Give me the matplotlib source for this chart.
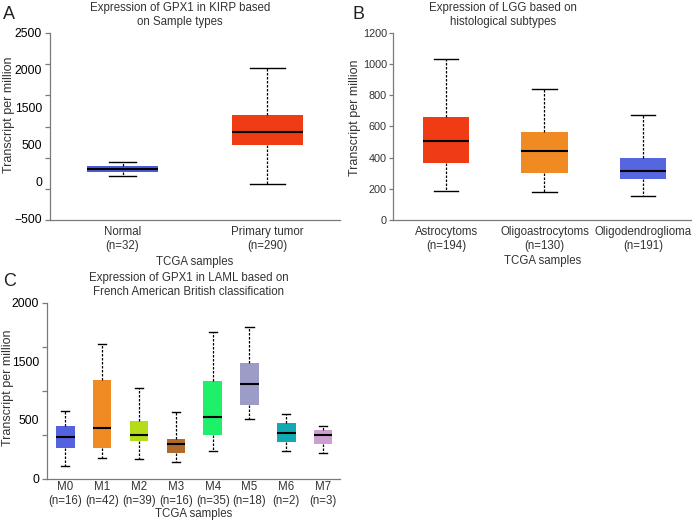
import matplotlib
matplotlib.use("Agg")
import matplotlib.pyplot as plt

plt.rcParams['font.family'] = ['Liberation Sans', 'DejaVu Sans']

# Panel A: GPX1 in KIRP
a_labels = ['Normal\n(n=32)', 'Primary tumor\n(n=290)']
a_whislo = [210, 75]
a_q1 = [263, 710]
a_med = [317, 909]
a_q3 = [366, 1188]
a_whishi = [425, 1941]
a_colors = ['#4b5bd6', '#f03c15']
a_ticks = [-500, 0, 500, 1000, 1500, 2000, 2500]
a_ticklabel_pos = [-478, 113, 720, 1312, 1914, 2505]
a_ticklabels = ['\u2212500', '0', '500', '1500', '2000', '2500']

# Panel B: LGG histological subtypes
b_labels = ['Astrocytoms\n(n=194)', 'Oligoastrocytoms\n(n=130)', 'Oligodendroglioma\n(n=191)']
b_whislo = [186, 180, 152]
b_q1 = [366, 304, 263]
b_med = [507, 441, 314]
b_q3 = [659, 565, 398]
b_whishi = [1035, 843, 676]
b_colors = ['#f03c15', '#f08a22', '#5566de']
b_ticks = [0, 200, 400, 600, 800, 1000, 1200]

# Panel C: GPX1 in LAML (FAB classification)
c_labels = ['M0\n(n=16)', 'M1\n(n=42)', 'M2\n(n=39)', 'M3\n(n=16)',
            'M4\n(n=35)', 'M5\n(n=18)', 'M6\n(n=2)', 'M7\n(n=3)']
c_whislo = [152, 240, 232, 190, 316, 681, 323, 297]
c_q1 = [350, 357, 426, 293, 498, 844, 418, 392]
c_med = [475, 574, 502, 403, 707, 1080, 525, 502]
c_q3 = [605, 1129, 654, 452, 1110, 1319, 639, 551]
c_whishi = [776, 1532, 1030, 764, 1669, 1722, 738, 605]
c_colors = ['#5462e0', '#f08a22', '#b4dc18', '#b06a2a', '#1ef06a', '#9c9cc8', '#12aab2', '#cc9ed2']
c_ticks = [0, 500, 1000, 1500, 2000]
c_ticklabel_pos = [0, 681, 1335, 2000]
c_ticklabels = ['0', '500', '1500', '2000']

AXCOL = '#7a7a7a'
TXTCOL = '#333333'
FS = 8.3


def draw_panel(ax, labels, wlo, q1, med, q3, whi, colors, width, capw, xpad, xlpad):
    stats = []
    for i in range(len(labels)):
        stats.append(dict(whislo=wlo[i], q1=q1[i], med=med[i], q3=q3[i],
                          whishi=whi[i], fliers=[]))
    bp = ax.bxp(stats, positions=range(len(labels)), widths=width,
                patch_artist=True, showfliers=False, capwidths=capw,
                medianprops=dict(color='black', linewidth=1.5),
                whiskerprops=dict(color='black', linestyle=(0, (2, 1.2)), linewidth=0.9),
                capprops=dict(color='black', linewidth=1.0),
                boxprops=dict(linewidth=0))
    for patch, c in zip(bp['boxes'], colors):
        patch.set_facecolor(c)
        patch.set_edgecolor(c)
    ax.set_xticks(range(len(labels)))
    ax.set_xticklabels(labels, fontsize=FS, color=TXTCOL, linespacing=1.2)
    for s in ['top', 'right']:
        ax.spines[s].set_visible(False)
    for s in ['left', 'bottom']:
        ax.spines[s].set_color(AXCOL)
        ax.spines[s].set_linewidth(0.9)
    ax.tick_params(axis='both', colors=AXCOL, labelcolor=TXTCOL, length=3.6, width=0.9)
    ax.tick_params(axis='x', length=0, pad=xpad)
    ax.set_xlabel('TCGA samples', fontsize=FS, color=TXTCOL, labelpad=xlpad)
    ax.set_ylabel('Transcript per million', fontsize=9, color=TXTCOL)


fig = plt.figure(figsize=(6.92, 5.24), dpi=100)

axA = fig.add_axes([0.0723, 0.5802, 0.419, 0.357])
draw_panel(axA, a_labels, a_whislo, a_q1, a_med, a_q3, a_whishi, a_colors, 0.49, [0.18, 0.24], 4.5, 3)
axA.set_xlim(-0.5, 1.5)
axA.set_ylim(-500, 2500)
axA.yaxis.remove_overlapping_locs = False
axA.set_yticks(a_ticks)
axA.set_yticklabels([])
axA.set_yticks(a_ticklabel_pos, a_ticklabels, minor=True)
axA.tick_params(axis='y', which='minor', length=0, pad=5.8, labelsize=8.7)
axA.yaxis.set_label_coords(-0.122, 0.564)
axA.set_title('Expression of GPX1 in KIRP based\non Sample types', fontsize=FS,
              color=TXTCOL, pad=5.5, linespacing=1.2, x=0.448)

axB = fig.add_axes([0.568, 0.5802, 0.432, 0.357])
draw_panel(axB, b_labels, b_whislo, b_q1, b_med, b_q3, b_whishi, b_colors, 0.47, 0.25, 4.5, 2.5)
axB.set_xlim(-0.54, 2.5)
axB.set_ylim(0, 1200)
axB.set_yticks(b_ticks)
axB.tick_params(axis='y', labelsize=7.8, pad=1.5, length=3)
axB.yaxis.set_label_coords(-0.106, 0.548)
axB.set_title('Expression of LGG based on\nhistological subtypes', fontsize=FS,
              color=TXTCOL, pad=5.5, linespacing=1.2, x=0.368)

axC = fig.add_axes([0.0679, 0.0859, 0.423, 0.336])
draw_panel(axC, c_labels, c_whislo, c_q1, c_med, c_q3, c_whishi, c_colors, 0.5, 0.22, 1.5, 1)
axC.set_xlim(-0.5, 7.45)
axC.set_ylim(0, 2000)
axC.yaxis.remove_overlapping_locs = False
axC.set_yticks(c_ticks)
axC.set_yticklabels([])
axC.set_yticks(c_ticklabel_pos, c_ticklabels, minor=True)
axC.tick_params(axis='y', which='minor', length=0, pad=5.8, labelsize=8.7)
axC.yaxis.set_label_coords(-0.112, 0.517)
axC.set_title('Expression of GPX1 in LAML based on\nFrench American British classification',
              fontsize=FS, color=TXTCOL, pad=5.5, linespacing=1.2, x=0.485)

fig.text(0.004, 0.973, 'A', fontsize=13, color='#222222', va='center')
fig.text(0.510, 0.973, 'B', fontsize=13, color='#222222', va='center')
fig.text(0.004, 0.4637, 'C', fontsize=13, color='#222222', va='center')

fig.savefig('out.png', dpi=100)
